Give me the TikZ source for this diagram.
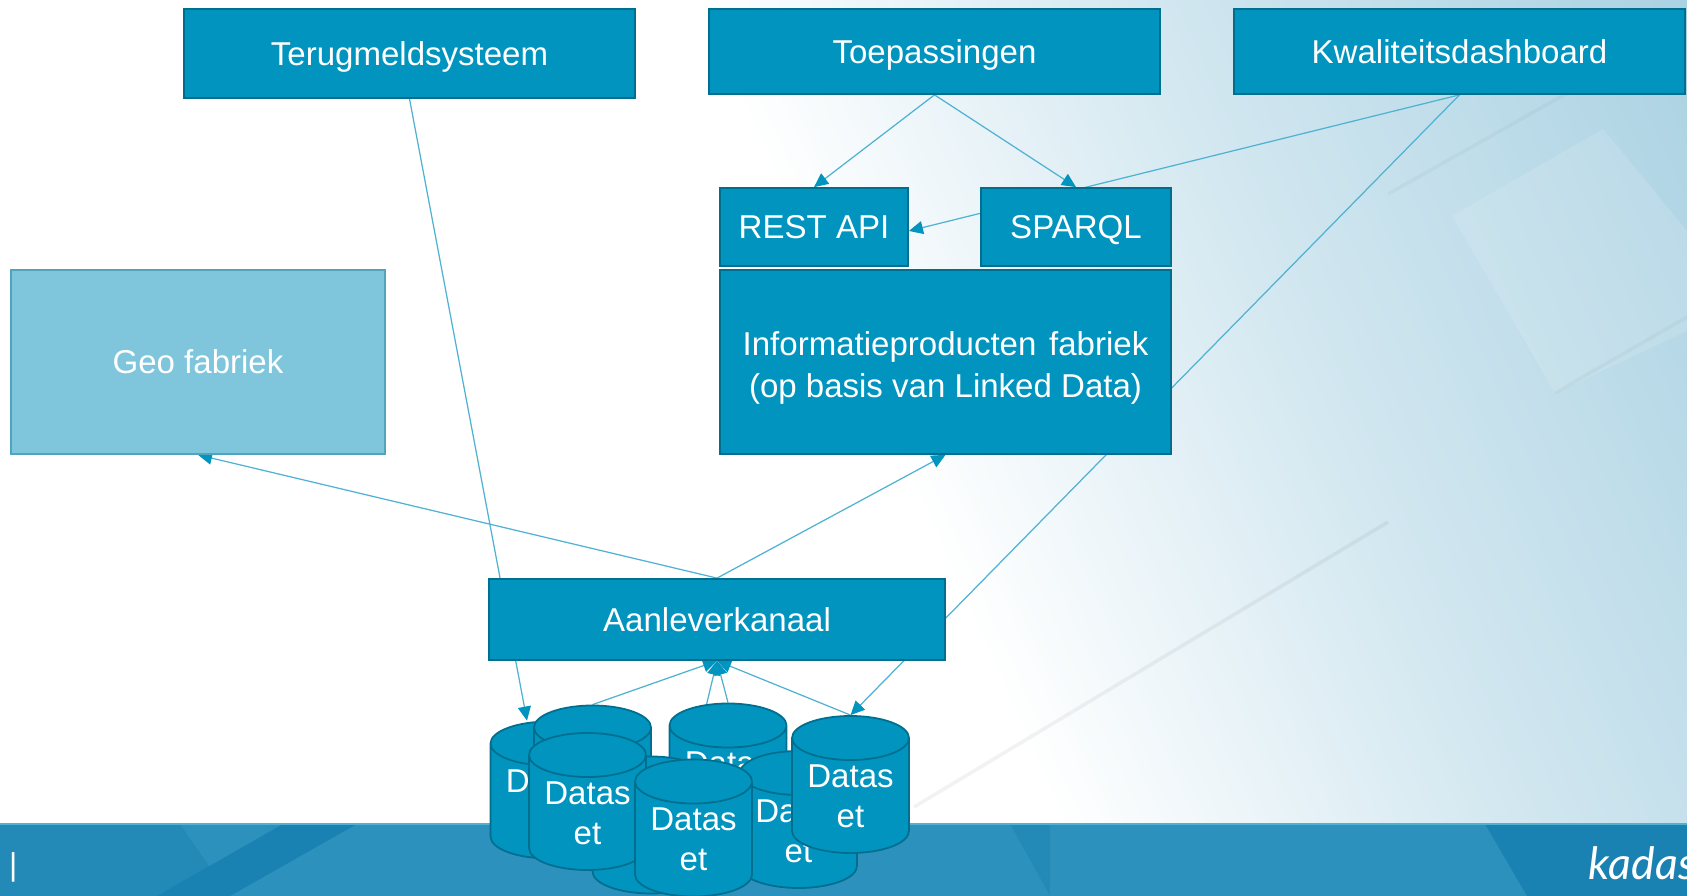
\documentclass[tikz,border=0pt]{standalone}
\usepackage{fontspec}
\setmainfont{Liberation Sans}
\newfontfamily\logofont{Lato}
\usetikzlibrary{positioning,shapes,arrows.meta}
\definecolor{boxblue}{HTML}{0094BF}
\definecolor{boxline}{HTML}{006F8F}
\definecolor{geoblue}{HTML}{7FC6DD}
\definecolor{geoline}{HTML}{4FA5BE}
\definecolor{linkblue}{HTML}{4FB2D2}
\definecolor{barblue}{HTML}{2D91BD}
\definecolor{bardark}{HTML}{2389B6}
\definecolor{bardeep}{HTML}{1A82B2}
\definecolor{bgmid}{HTML}{D2E7F0}
\definecolor{bgend}{HTML}{A9D1E2}
\pgfdeclarehorizontalshading{slideshade}{100bp}{color(0bp)=(white); color(51bp)=(white); color(66bp)=(bgmid); color(84bp)=(bgend); color(100bp)=(bgend)}
\pgfdeclarelayer{background}
\pgfsetlayers{background,main}
\tikzset{
  box/.style={rectangle, draw=boxline, fill=boxblue, line width=0.5pt, text=white, font=\fontsize{9.4}{11.1}\selectfont, align=center, inner sep=0pt, text depth=0pt},
  dataset/.style={cylinder, shape border rotate=90, shape aspect=0.51, draw=boxline, fill=boxblue, line width=0.5pt, text=white, font=\fontsize{9.4}{11.4}\selectfont, align=center, inner sep=0pt, minimum width=1.17cm, minimum height=1.37cm, anchor=shape center, execute at begin node=\rule{0pt}{8.2pt}},
  link/.style={draw=linkblue, line width=0.35pt, -{Triangle[length=4pt,width=3.7pt,color=boxblue]}}
}
\begin{document}
\begin{tikzpicture}
\useasboundingbox (0,0) rectangle (16.87,8.96);
\node[box, minimum width=4.51cm, minimum height=0.89cm] (terugmeld) at (4.095,8.425) {Terugmeldsysteem};
\node[box, minimum width=4.51cm, minimum height=0.85cm] (toepassingen) at (9.345,8.445) {Toepassingen};
\node[box, minimum width=4.51cm, minimum height=0.85cm] (kwaliteit) at (14.595,8.445) {Kwaliteitsdashboard};
\node[box, minimum width=1.88cm, minimum height=0.78cm] (rest) at (8.14,6.69) {REST API};
\node[box, minimum width=1.90cm, minimum height=0.78cm] (sparql) at (10.76,6.69) {SPARQL};
\node[box, minimum width=4.51cm, minimum height=1.84cm] (fabriek) at (9.455,5.34) {\rule{0pt}{8.1pt}Informatieproducten\hspace{1pt} fabriek\\[0.8pt](op basis van Linked Data)};
\node[box, draw=geoline, fill=geoblue, minimum width=3.74cm, minimum height=1.84cm] (geo) at (1.98,5.34) {Geo fabriek};
\node[box, minimum width=4.56cm, minimum height=0.81cm] (aanlever) at (7.17,2.765) {Aanleverkanaal};
\node[dataset] (set1) at (5.49,1.06) {Datas\\et};
\node[dataset] (set2) at (5.925,1.22) {Datas\\et};
\node[dataset] (set4) at (7.28,1.24) {Datas\\et};
\node[dataset] (set5) at (6.51,0.71) {Datas\\et};
\node[dataset] (set3) at (5.875,0.945) {Datas\\et};
\node[dataset] (set6) at (7.985,0.765) {Datas\\et};
\node[dataset] (set7) at (6.935,0.68) {Datas\\et};
\node[dataset] (set8) at (8.505,1.115) {Datas\\et};
\node[text=white, font=\fontsize{9}{11}\selectfont, anchor=east, inner sep=0pt] (page) at (0.18,0.29) {0 |};
\node[text=white, font=\logofont\itshape\fontsize{12.7}{15}\selectfont, anchor=base west, inner sep=0pt] (logo) at (15.88,0.16) {kadas};
\begin{pgfonlayer}{background}
\shade[shading=slideshade, shading angle=24] (0,0.72) rectangle (16.87,8.96);
\fill[white, opacity=0.12] (16.03,7.67) -- (16.87,6.65) -- (16.87,5.65) -- (15.55,5.03) -- (14.52,6.8) -- cycle;
\draw[black, opacity=0.05, line width=1pt] (9.14,0.89) -- (13.88,3.74);
\draw[black, opacity=0.03, line width=1pt] (13.88,7.02) -- (15.71,8.05);
\draw[black, opacity=0.03, line width=1pt] (15.55,5.03) -- (16.87,5.79);
\fill[barblue] (0,0) rectangle (16.87,0.72);
\fill[bardark] (0,0) rectangle (10.5,0.72);
\fill[barblue] (1.8,0.72) -- (10.1,0.72) -- (10.5,0) -- (2.3,0) -- cycle;
\fill[bardeep] (2.83,0.72) -- (3.57,0.72) -- (2.3,0) -- (1.57,0) -- cycle;
\fill[bardeep] (14.85,0.72) -- (16.87,0.72) -- (16.87,0) -- (15.27,0) -- cycle;
\draw[linkblue, line width=0.4pt] (0,0.72) -- (16.87,0.72);
\draw[link] (terugmeld.south) -- ([xshift=-0.22cm]set1.north);
\draw[link] (toepassingen.south) -- (rest.north);
\draw[link] (toepassingen.south) -- (sparql.north);
\draw[link] (kwaliteit.south) -- ([yshift=-0.04cm]rest.east);
\draw[link] (kwaliteit.south) -- (set8.north);
\draw[link] (aanlever.north) -- (geo.south);
\draw[link] (aanlever.north) -- (fabriek.south);
\draw[link] (set2.north) -- (aanlever.south);
\draw[link] (set4.north) -- (aanlever.south);
\draw[link] (set7.north) -- (aanlever.south);
\draw[link] (set8.north) -- (aanlever.south);
\end{pgfonlayer}
\end{tikzpicture}
\end{document}
